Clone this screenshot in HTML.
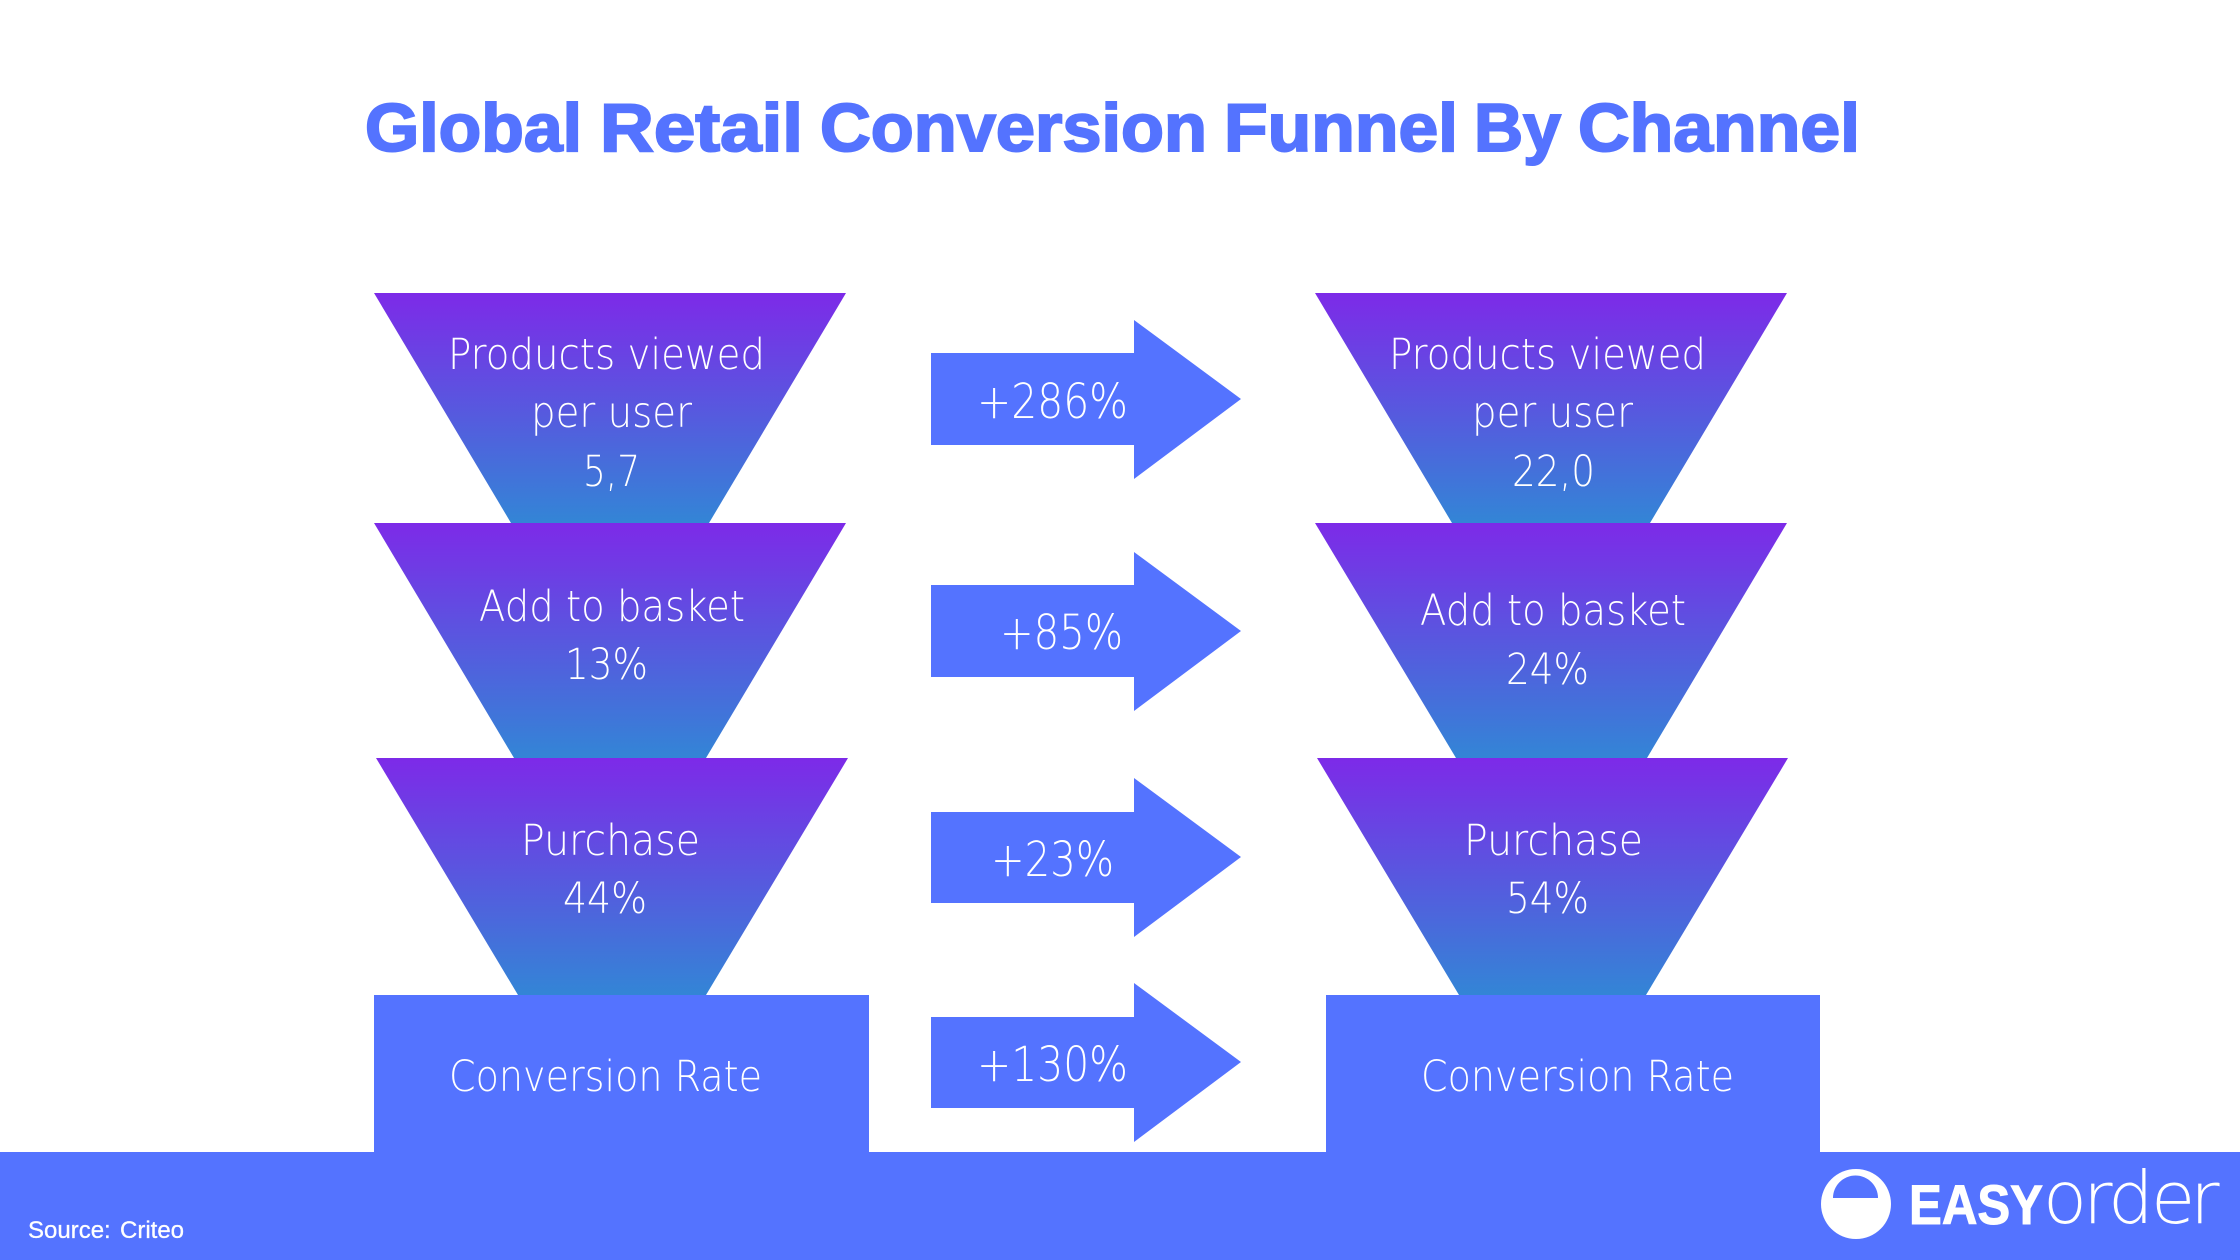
<!DOCTYPE html>
<html lang="en">
<head>
<meta charset="utf-8">
<title>Global Retail Conversion Funnel By Channel</title>
<style>
html,body{margin:0;padding:0;background:#fff;width:2240px;height:1260px;overflow:hidden}
svg{display:block}
.t{font-family:"DejaVu Sans ExtraLight","DejaVu Sans Light","Liberation Sans",sans-serif;font-size:43px;fill:#fff}
.a{font-size:48px}
.h{font-family:"Liberation Sans",sans-serif;font-weight:700;font-size:68px;fill:#5473ff;stroke:#5473ff;stroke-width:2px}
</style>
</head>
<body>
<svg xmlns="http://www.w3.org/2000/svg" width="2240" height="1260" viewBox="0 0 2240 1260">
<defs>
<linearGradient id="g" x1="0" y1="0" x2="0" y2="1">
<stop offset="0" stop-color="#7d2ae8"/>
<stop offset="1" stop-color="#3385d6"/>
</linearGradient>
</defs>
<rect width="2240" height="1260" fill="#fff"/>

<text class="h" x="365" y="151" textLength="217" lengthAdjust="spacingAndGlyphs">Global</text>
<text class="h" x="600" y="151" textLength="203" lengthAdjust="spacingAndGlyphs">Retail</text>
<text class="h" x="820" y="151" textLength="387" lengthAdjust="spacingAndGlyphs">Conversion</text>
<text class="h" x="1224" y="151" textLength="234" lengthAdjust="spacingAndGlyphs">Funnel</text>
<text class="h" x="1474" y="151" textLength="87" lengthAdjust="spacingAndGlyphs">By</text>
<text class="h" x="1578" y="151" textLength="282" lengthAdjust="spacingAndGlyphs">Channel</text>

<!-- left funnels -->
<polygon points="374,293 846,293 709,523 511,523" fill="url(#g)"/>
<polygon points="374,523 846,523 706,758 514,758" fill="url(#g)"/>
<polygon points="376,758 848,758 706,995 518,995" fill="url(#g)"/>
<!-- right funnels -->
<polygon points="1315,293 1787,293 1650,523 1452,523" fill="url(#g)"/>
<polygon points="1315,523 1787,523 1647,758 1456,758" fill="url(#g)"/>
<polygon points="1317,758 1788,758 1646,995 1459,995" fill="url(#g)"/>

<!-- base bars -->
<rect x="0" y="1152" width="2240" height="108" fill="#5473ff"/>
<rect x="374" y="995" width="495" height="158" fill="#5473ff"/>
<rect x="1326" y="995" width="494" height="158" fill="#5473ff"/>

<!-- arrows -->
<polygon points="931,353 1134,353 1134,320 1241,399 1134,479 1134,445 931,445" fill="#5473ff"/>
<polygon points="931,585 1134,585 1134,552 1241,631 1134,711 1134,677 931,677" fill="#5473ff"/>
<polygon points="931,812 1134,812 1134,778 1241,857 1134,937 1134,903 931,903" fill="#5473ff"/>
<polygon points="931,1017 1134,1017 1134,983 1241,1062 1134,1142 1134,1108 931,1108" fill="#5473ff"/>

<!-- left labels -->
<text class="t" x="448" y="369" textLength="317" lengthAdjust="spacingAndGlyphs">Products viewed</text>
<text class="t" x="531" y="427" textLength="161" lengthAdjust="spacingAndGlyphs">per user</text>
<text class="t" x="583" y="486" textLength="57" lengthAdjust="spacingAndGlyphs">5,7</text>
<text class="t" x="479" y="621" textLength="266" lengthAdjust="spacingAndGlyphs">Add to basket</text>
<text class="t" x="565" y="679" textLength="83" lengthAdjust="spacingAndGlyphs">13%</text>
<text class="t" x="521" y="855" textLength="179" lengthAdjust="spacingAndGlyphs">Purchase</text>
<text class="t" x="563" y="913" textLength="84" lengthAdjust="spacingAndGlyphs">44%</text>
<text class="t" x="449" y="1091" textLength="313" lengthAdjust="spacingAndGlyphs">Conversion Rate</text>

<!-- right labels -->
<text class="t" x="1389" y="369" textLength="317" lengthAdjust="spacingAndGlyphs">Products viewed</text>
<text class="t" x="1472" y="427" textLength="161" lengthAdjust="spacingAndGlyphs">per user</text>
<text class="t" x="1512" y="486" textLength="83" lengthAdjust="spacingAndGlyphs">22,0</text>
<text class="t" x="1420" y="625" textLength="266" lengthAdjust="spacingAndGlyphs">Add to basket</text>
<text class="t" x="1506" y="684" textLength="83" lengthAdjust="spacingAndGlyphs">24%</text>
<text class="t" x="1464" y="855" textLength="179" lengthAdjust="spacingAndGlyphs">Purchase</text>
<text class="t" x="1506" y="913" textLength="83" lengthAdjust="spacingAndGlyphs">54%</text>
<text class="t" x="1421" y="1091" textLength="313" lengthAdjust="spacingAndGlyphs">Conversion Rate</text>

<!-- arrow labels -->
<text class="t a" x="977" y="418" textLength="151" lengthAdjust="spacingAndGlyphs">+286%</text>
<text class="t a" x="1000" y="649" textLength="123" lengthAdjust="spacingAndGlyphs">+85%</text>
<text class="t a" x="991" y="876" textLength="123" lengthAdjust="spacingAndGlyphs">+23%</text>
<text class="t a" x="977" y="1081" textLength="151" lengthAdjust="spacingAndGlyphs">+130%</text>

<!-- footer -->
<text x="28" y="1238" font-family="'Liberation Sans',sans-serif" font-size="24" fill="#fff" stroke="#fff" stroke-width="0.3">Source:<tspan x="120">Criteo</tspan></text>

<!-- logo -->
<circle cx="1856" cy="1204" r="35" fill="#fff"/>
<path d="M1833,1198 a22.5,22.5 0 0 1 45,0 z" fill="#5473ff"/>
<text x="1909" y="1224" textLength="134" lengthAdjust="spacingAndGlyphs" font-family="'Liberation Sans',sans-serif" font-weight="700" font-size="56" fill="#fff" stroke="#fff" stroke-width="1">EASY</text>
<text x="2043 2083 2108 2151 2190" y="1223" font-family="'DejaVu Sans ExtraLight','DejaVu Sans Light','Liberation Sans',sans-serif" font-size="72" fill="#fff">order</text>
</svg>
</body>
</html>
